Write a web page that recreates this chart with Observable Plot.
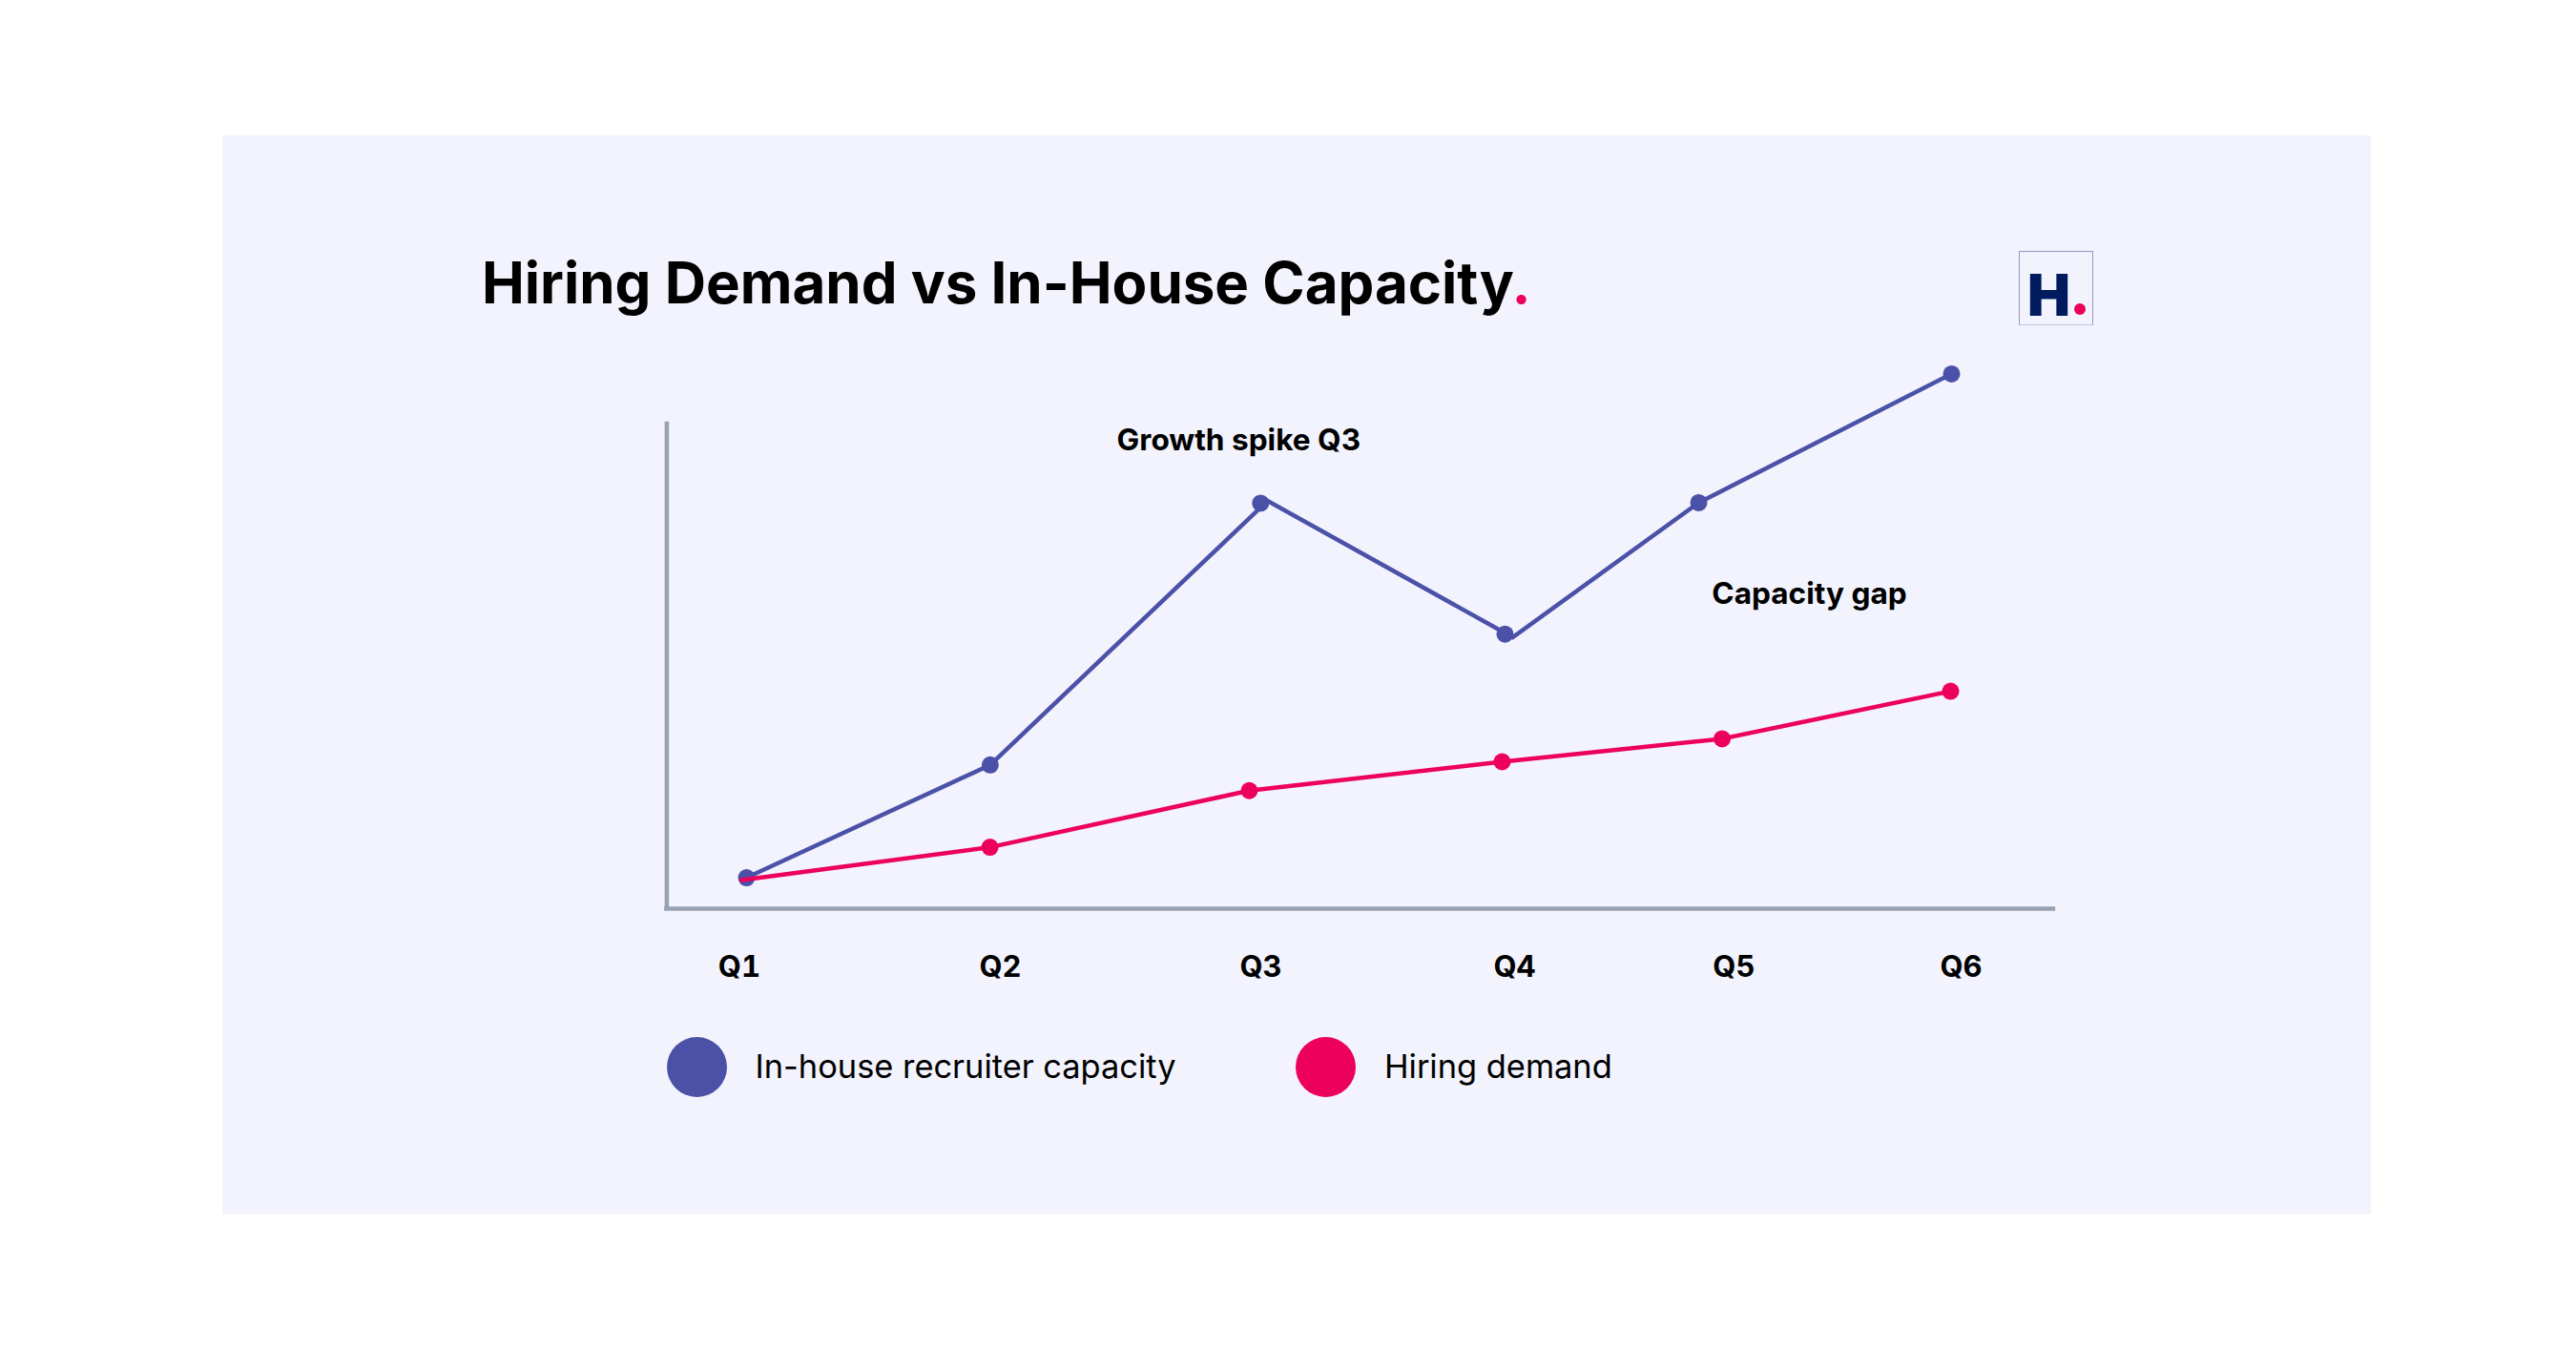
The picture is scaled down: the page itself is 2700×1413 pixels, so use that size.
<!DOCTYPE html>
<html>
<head>
<meta charset="utf-8">
<script src="https://cdn.jsdelivr.net/npm/d3@7"></script>
<script src="https://cdn.jsdelivr.net/npm/@observablehq/plot@0.6"></script>
<style>
html,body{margin:0;padding:0;background:#fff;width:2700px;height:1413px;overflow:hidden;font-family:Inter,sans-serif;color:#000}
#panel{position:absolute;left:233px;top:141.5px;width:2252px;height:1131px;background:#F2F3FD}
#chart{position:absolute;left:0;top:0.5px}
#title{position:absolute;left:505px;top:260px;margin:0;font:700 60px/72px Inter,sans-serif;letter-spacing:0;white-space:nowrap}
#title span{color:#EC005A}
#logo{position:absolute;left:2116px;top:263px;width:76px;height:76px;border:1px solid #9298C4;border-bottom-color:#C3C7E0}
#logo b{position:absolute;left:8px;top:9px;font:900 60px/72px Inter,sans-serif;color:#001A5E}
#logo i{position:absolute;left:57px;top:54px;width:12px;height:12px;border-radius:50%;background:#EC005A}
.sw{position:absolute;top:1087px;width:63px;height:63px;border-radius:50%}
.lg{position:absolute;top:1096px;font:400 34.4px/44px Inter,sans-serif;white-space:nowrap}
</style>
</head>
<body>
<div id="panel"></div>
<div id="chart"></div>
<h1 id="title">Hiring Demand vs In-House Capacity<span>.</span></h1>
<div id="logo"><b>H</b><i></i></div>
<div class="sw" style="left:699px;background:#4C51A8"></div>
<div class="lg" style="left:791.5px">In-house recruiter capacity</div>
<div class="sw" style="left:1358px;background:#EC005A"></div>
<div class="lg" style="left:1451px">Hiring demand</div>
<script>
const quarters = ["Q1","Q2","Q3","Q4","Q5","Q6"];
const quarterTicks = [0.97,2.053,3.134,4.187,5.097,6.04];
// In-house recruiter capacity
const capacityX = [1,2.011,3.133,4.147,4.951,6];
const capacityY = [5.8,26.9,75.9,51.4,76,100.1];
const capacityLineX = [1,2.011,3.162,4.179,4.951,6];
const capacityLineY = [5.8,26.9,76.35,50.8,76,100.1];
// Hiring demand
const demandX = [2.01,3.086,4.135,5.048,5.996];
const demandY = [11.5,22.1,27.5,31.8,40.7];
const demandLineX = [0.972,2.01,3.086,4.135,5.048,5.996];
const demandLineY = [5.3,11.5,22.1,27.5,31.8,40.7];
// Annotations
const noteText = ["Growth spike Q3","Capacity gap"];
const noteX = [3.042,5.41];
const noteY = [87.7,58.9];
// Axis extents
const axisLeft = 0.669, axisRight = 6.432, axisTop = 91.1;

const BLUE="#4C51A8", RED="#EC005A", GREY="#98A2B3";
const zip=(a,b)=>a.map((v,i)=>({x:v,y:b[i]}));
const plot = Plot.plot({
  width:2700,height:1413,
  marginLeft:782,marginRight:655,marginTop:391,marginBottom:462,
  style:{background:"transparent",fontFamily:"Inter, sans-serif",overflow:"visible"},
  x:{domain:[1,6],axis:null},
  y:{domain:[0,100],axis:null},
  marks:[
    Plot.axisX({ticks:quarterTicks,tickFormat:(d,i)=>quarters[i],tickSize:0,tickPadding:49,fontSize:31,fontWeight:700,fill:"#000",label:null}),
    Plot.ruleX([axisLeft],{y1:0,y2:axisTop,stroke:GREY,strokeWidth:4.5}),
    Plot.ruleY([0],{x1:axisLeft-0.009,x2:axisRight,stroke:GREY,strokeWidth:4.5}),
    Plot.line(zip(capacityLineX,capacityLineY),{x:"x",y:"y",stroke:BLUE,strokeWidth:4.5,strokeLinejoin:"miter",strokeLinecap:"butt",strokeMiterlimit:10}),
    Plot.dot(zip(capacityX,capacityY),{x:"x",y:"y",r:9,fill:BLUE}),
    Plot.line(zip(demandLineX,demandLineY),{x:"x",y:"y",stroke:RED,strokeWidth:4.5,strokeLinejoin:"miter",strokeLinecap:"butt"}),
    Plot.dot(zip(demandX,demandY),{x:"x",y:"y",r:9,fill:RED}),
    Plot.text(noteText,{x:(d,i)=>noteX[i],y:(d,i)=>noteY[i],text:d=>d,fontSize:31.6,fontWeight:700,fill:"#000",lineAnchor:"middle",textAnchor:"middle"})
  ]
});
document.getElementById("chart").appendChild(plot);
</script>
</body>
</html>
